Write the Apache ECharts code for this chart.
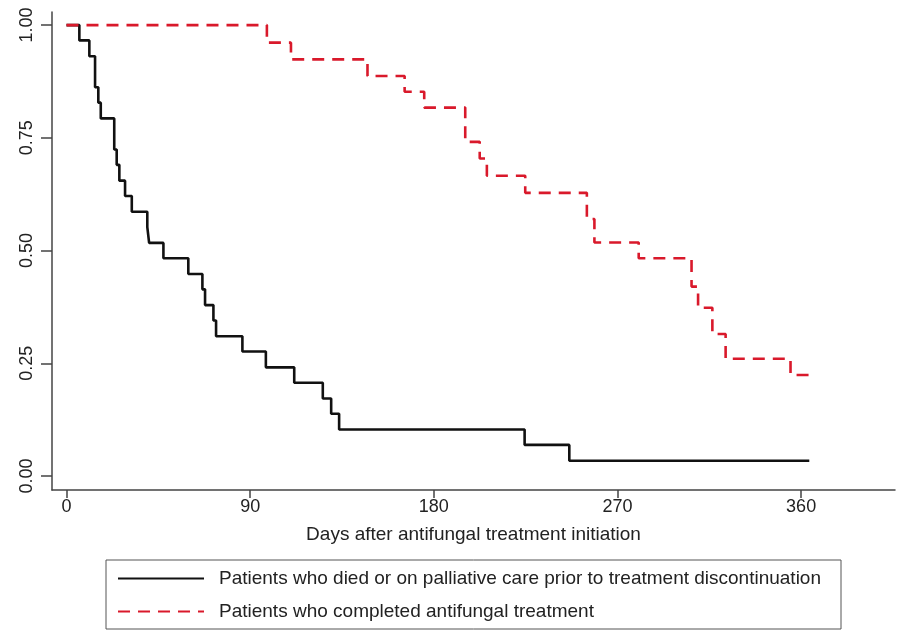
<!DOCTYPE html>
<html>
<head>
<meta charset="utf-8">
<script src="https://cdn.jsdelivr.net/npm/echarts@6/dist/echarts.min.js"></script>
<style>
html,body{margin:0;padding:0;background:#fff;}
#chart{width:901px;height:631px;}
</style>
</head>
<body>
<div id="chart"></div>
<script>
// Data
const xTicks = [0, 90, 180, 270, 360];
const yTicks = [0, 0.25, 0.5, 0.75, 1];
const seriesNames = [
  'Patients who died or on palliative care prior to treatment discontinuation',
  'Patients who completed antifungal treatment'
];
const diedDays = [0, 6.3, 11.2, 14, 15.6, 16.8, 23.4, 24.6, 25.9, 28.7, 32, 39.6, 40.5, 47.5, 59.7, 66.6, 67.9, 72, 73.3, 86.2, 97.7, 111.6, 125.6, 129.7, 133.6, 224.5, 246.4, 364];
const diedSurv = [1, 0.966, 0.931, 0.862, 0.828, 0.793, 0.724, 0.690, 0.655, 0.621, 0.586, 0.552, 0.517, 0.483, 0.448, 0.414, 0.379, 0.345, 0.310, 0.276, 0.241, 0.207, 0.172, 0.138, 0.103, 0.069, 0.034, 0.034];
const completedDays = [0, 98.2, 110, 147.5, 165.7, 175.3, 195.4, 202.5, 206, 224.8, 255, 258.7, 280.4, 306.3, 309.5, 316.5, 323, 354.8, 364.6];
const completedSurv = [1, 0.961, 0.924, 0.887, 0.852, 0.817, 0.741, 0.704, 0.666, 0.628, 0.57, 0.518, 0.483, 0.42, 0.373, 0.315, 0.260, 0.224, 0.224];

const zip = (a, b) => a.map((v, i) => [v, b[i]]);
const FONT = '"Liberation Sans", Arial, sans-serif';
const AX = '#444';

const chart = echarts.init(document.getElementById('chart'), null, {renderer: 'canvas'});
chart.setOption({
  animation: false,
  backgroundColor: '#fff',
  textStyle: {fontFamily: FONT},
  grid: {left: 52, top: 12, right: 6, bottom: 141, containLabel: false},
  xAxis: {
    type: 'value',
    min: -7.1, max: 406,
    name: 'Days after antifungal treatment initiation',
    nameLocation: 'middle',
    nameGap: 35,
    nameTextStyle: {fontFamily: FONT, fontSize: 19, color: '#222'},
    axisLine: {show: true, onZero: false, lineStyle: {color: AX, width: 1.5}},
    axisTick: {show: true, length: 8, customValues: xTicks, lineStyle: {color: AX, width: 1.5}},
    axisLabel: {customValues: xTicks, margin: 8, fontSize: 18, color: '#222', fontFamily: FONT},
    splitLine: {show: false}
  },
  yAxis: {
    type: 'value',
    min: -0.031, max: 1.029,
    axisLine: {show: true, onZero: false, lineStyle: {color: AX, width: 1.5}},
    axisTick: {show: true, length: 11, customValues: yTicks, lineStyle: {color: AX, width: 1.5}},
    axisLabel: {
      customValues: yTicks, rotate: 90, margin: 16, fontSize: 18, color: '#222', fontFamily: FONT,
      formatter: v => v.toFixed(2)
    },
    splitLine: {show: false}
  },
  legend: {
    orient: 'vertical',
    left: 106, top: 560,
    padding: [9, 20, 8, 11],
    borderColor: '#555', borderWidth: 1,
    itemWidth: 86, itemHeight: 14, itemGap: 14,
    itemStyle: {opacity: 0},
    textStyle: {fontSize: 19, color: '#222', fontFamily: FONT, padding: [0, 0, 0, 10]},
    data: seriesNames
  },
  series: [
    {
      name: seriesNames[0], type: 'line', step: 'end', symbol: 'none',
      data: zip(diedDays, diedSurv),
      lineStyle: {color: '#111', width: 2.6},
      itemStyle: {color: '#111'}
    },
    {
      name: seriesNames[1], type: 'line', step: 'end', symbol: 'none',
      data: zip(completedDays, completedSurv),
      lineStyle: {color: '#d9192b', width: 2.6, type: [12, 8]},
      itemStyle: {color: '#d9192b'}
    }
  ]
});
</script>
</body>
</html>
